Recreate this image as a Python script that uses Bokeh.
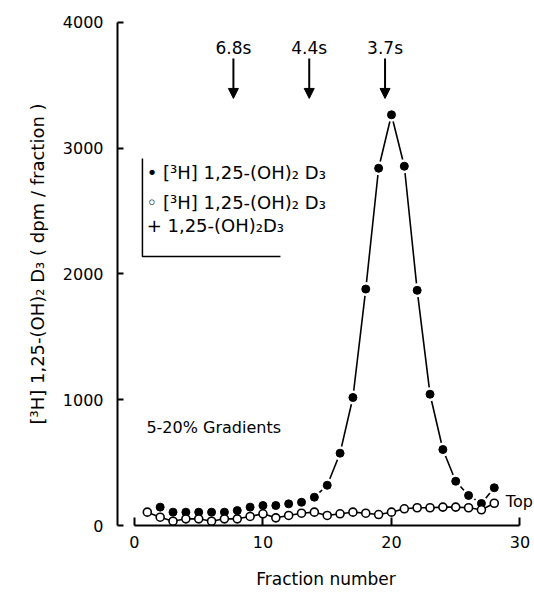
import math
from bokeh.plotting import figure
from bokeh.models import Range1d, FixedTicker, Arrow, NormalHead, Label, ColumnDataSource
from bokeh.core.properties import value
from bokeh.embed import file_html
from bokeh.resources import INLINE

# ---- data ----
fractions_filled = list(range(2, 29))
dpm_filled = [146, 106, 106, 106, 106, 106, 119, 146, 159, 159, 172, 185, 225, 320,
              575, 1018, 1880, 2841, 3266, 2857, 1870, 1044, 604, 352, 239, 175, 300]
fractions_open = list(range(1, 29))
dpm_open = [106, 66, 34, 53, 53, 34, 53, 53, 72, 93, 61, 80, 98, 106, 80, 93, 106,
            98, 87, 106, 133, 141, 141, 146, 146, 141, 125, 177]
x_ticks = [0, 10, 20, 30]
y_ticks = [0, 1000, 2000, 3000, 4000]
sed_fraction = [7.7, 13.6, 19.5]
sed_labels = ["6.8s", "4.4s", "3.7s"]

FONT = value("DejaVu Sans")

p = figure(width=534, height=595, x_range=Range1d(-1.32, 31.13), y_range=Range1d(0, 4159),
           output_backend="svg", toolbar_location=None,
           min_border_left=117, min_border_right=0, min_border_top=2, min_border_bottom=70)
p.outline_line_color = None
p.xgrid.visible = False
p.ygrid.visible = False
p.background_fill_color = "white"

# axes
xa = p.xaxis[0]
xa.bounds = (0, 30)
xa.ticker = FixedTicker(ticks=x_ticks)
xa.major_tick_in = 8
xa.major_tick_out = 0
xa.minor_tick_line_color = None
xa.axis_line_width = 2
xa.major_tick_line_width = 2
xa.major_label_text_font = "DejaVu Sans"
xa.major_label_text_font_size = "16px"
xa.major_label_text_color = "black"
xa.major_label_standoff = 10
xa.axis_label = "Fraction number"
xa.axis_label_text_font = "DejaVu Sans"
xa.axis_label_text_font_style = "normal"
xa.axis_label_text_font_size = "17px"
xa.axis_label_text_color = "black"
xa.axis_label_standoff = 18

ya = p.yaxis[0]
ya.bounds = (0, 4000)
ya.ticker = FixedTicker(ticks=y_ticks)
ya.major_tick_in = 6
ya.major_tick_out = 0
ya.minor_tick_line_color = None
ya.axis_line_width = 2
ya.major_tick_line_width = 2
ya.major_label_text_font = "DejaVu Sans"
ya.major_label_text_font_size = "16px"
ya.major_label_text_color = "black"
ya.major_label_standoff = 14
ya.axis_label = "[³H] 1,25-(OH)₂ D₃ ( dpm / fraction )"
ya.axis_label_text_font = "DejaVu Sans"
ya.axis_label_text_font_style = "normal"
ya.axis_label_text_font_size = "18px"
ya.axis_label_text_color = "black"
ya.axis_label_standoff = 12

# filled series: line, white halo (gap), dots
p.line(fractions_filled, dpm_filled, line_color="black", line_width=1.6)
p.scatter(fractions_filled, dpm_filled, size=14, marker="circle", fill_color="white", line_color=None)
p.scatter(fractions_filled, dpm_filled, size=8, marker="circle", fill_color="black", line_color="black")

# open series
p.line(fractions_open, dpm_open, line_color="black", line_width=1.6)
p.scatter(fractions_open, dpm_open, size=8, marker="circle", fill_color="white",
          line_color="black", line_width=1.6)

# sedimentation marker arrows
arrow_src = ColumnDataSource(dict(x=sed_fraction, y0=[3714] * len(sed_fraction),
                                  y1=[3396] * len(sed_fraction)))
p.add_layout(Arrow(end=NormalHead(size=10, fill_color="black", line_color="black"),
                   source=arrow_src, x_start="x", y_start="y0", x_end="x", y_end="y1",
                   line_width=2, line_color="black"))
p.text(x=sed_fraction, y=[3801] * len(sed_fraction), text=sed_labels, text_align="center",
       text_baseline="middle", text_font=FONT, text_font_size="17px", text_color="black")

# legend-like bracket
p.line([0.62, 0.62, 11.36], [2918, 2139, 2139], line_color="black", line_width=1.5)
for txt, yy in [("• [³H] 1,25-(OH)₂ D₃", 2807), ("◦ [³H] 1,25-(OH)₂ D₃", 2569),
                ("+  1,25-(OH)₂D₃", 2386)]:
    p.add_layout(Label(x=0.95, y=yy, text=txt, text_baseline="middle", text_font="DejaVu Sans",
                       text_font_size="18px", text_color="black"))

p.add_layout(Label(x=0.93, y=779, text="5-20% Gradients", text_baseline="middle",
                   text_font="DejaVu Sans", text_font_size="16px", text_color="black"))
p.add_layout(Label(x=28.9, y=190, text="Top", text_baseline="middle",
                   text_font="DejaVu Sans", text_font_size="16px", text_color="black"))

open("out.html", "w").write(file_html(p, INLINE))
